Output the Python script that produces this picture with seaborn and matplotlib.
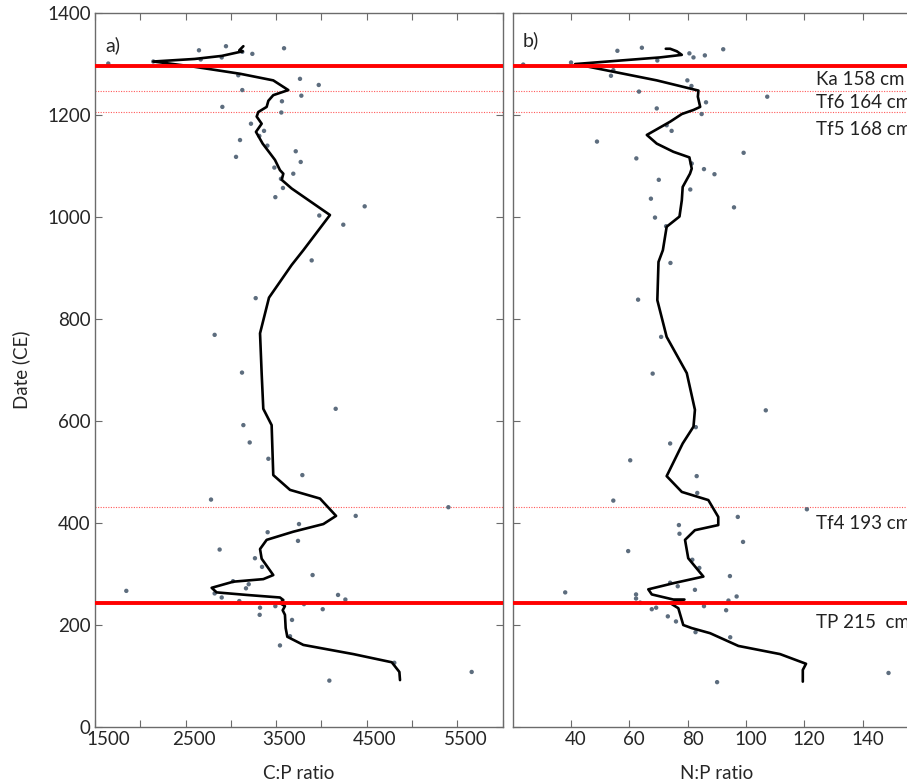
import numpy as np
import pandas as pd
import matplotlib
matplotlib.use("Agg")
import matplotlib.pyplot as plt
import matplotlib.transforms as mtrans
import seaborn as sns

sns.set_style("ticks")
plt.rcParams['font.family'] = ['Lato', 'DejaVu Sans']

# --- C:P samples (ratio, date CE)
cp_ratio = [1647, 2144, 2648, 2946, 3126, 3237, 3587, 2667, 2899, 3082, 3763, 3970,
            3126, 3778, 2906, 3564, 3557, 3222, 3366, 3314, 3101, 3403, 3716, 3057,
            3771, 3480, 3689, 3553, 3575, 3491, 4477, 3976, 4241, 3892, 3274, 2821,
            3123, 4157, 3138, 3208, 3414, 3789, 2781, 5401, 4378, 3752, 3406, 3741,
            2876, 3266, 3344, 3902, 3024, 3197, 3167, 1846, 2821, 2899, 4183, 4264,
            3093, 3807, 3491, 3322, 4014, 3318, 3675, 3653, 3542, 4804, 5658, 4087]
cp_date = [1301, 1305, 1327, 1335, 1324, 1320, 1331, 1309, 1313, 1278, 1271, 1259,
           1249, 1238, 1216, 1227, 1205, 1183, 1169, 1159, 1151, 1140, 1129, 1118,
           1108, 1097, 1085, 1075, 1057, 1039, 1021, 1003, 985, 915, 841, 769,
           695, 624, 592, 558, 526, 494, 446, 431, 414, 398, 382, 365,
           348, 331, 314, 298, 286, 280, 272, 267, 262, 254, 259, 250,
           247, 241, 237, 234, 231, 220, 210, 178, 160, 126, 108, 91]

# --- C:P smoothed curve
cp_line_val = [3138, 3093, 3130, 2900, 2600, 2144, 2585, 3101, 3468, 3634, 3468, 3414,
               3395, 3303, 3285, 3340, 3277, 3303, 3351, 3432, 3487, 3542, 3579, 3561,
               3671, 4094, 3800, 3671, 3421, 3322, 3340, 3358, 3450, 3468, 3653, 3984,
               4161, 4021, 3689, 3395, 3322, 3340, 3468, 3358, 3027, 2788, 2843, 3175,
               3542, 3579, 3542, 3597, 3572, 3597, 3605, 3623, 3800, 4352, 4776, 4860, 4867]
cp_line_date = [1335, 1327, 1325, 1316, 1310, 1305, 1295, 1281, 1268, 1249, 1239, 1228,
                1216, 1206, 1197, 1183, 1167, 1159, 1144, 1125, 1112, 1092, 1085, 1073,
                1056, 1004, 935, 906, 842, 772, 693, 624, 592, 494, 465, 448,
                414, 398, 383, 367, 349, 330, 298, 290, 285, 273, 264, 259,
                254, 249, 243, 237, 229, 220, 194, 177, 161, 143, 127, 108, 92]

# --- N:P samples
np_ratio = [23.6, 40.0, 55.9, 64.3, 80.6, 82.0, 85.9, 92.2, 69.6, 54.5, 53.7, 79.9,
            81.3, 63.3, 107.3, 86.3, 69.4, 84.8, 72.8, 74.5, 48.9, 99.2, 62.4, 81.4,
            85.6, 89.2, 70.1, 80.9, 67.4, 95.9, 68.8, 72.6, 74.1, 63.0, 70.9, 68.0,
            106.8, 82.8, 74.0, 60.3, 83.1, 83.3, 54.5, 120.9, 97.2, 77.0, 77.2, 99.0,
            59.6, 81.6, 84.0, 94.5, 74.0, 76.6, 82.5, 38.0, 62.3, 62.3, 96.8, 94.0,
            63.7, 85.6, 69.2, 67.7, 93.2, 73.2, 76.0, 82.7, 94.6, 148.9, 90.1]
np_date = [1299, 1303, 1326, 1332, 1321, 1313, 1317, 1329, 1307, 1288, 1277, 1268,
           1257, 1246, 1236, 1225, 1213, 1202, 1180, 1169, 1148, 1126, 1115, 1105,
           1094, 1084, 1073, 1054, 1036, 1019, 999, 982, 910, 838, 765, 693,
           621, 588, 556, 523, 492, 459, 444, 427, 412, 396, 379, 363,
           345, 328, 312, 296, 283, 276, 269, 264, 260, 252, 256, 248,
           244, 237, 234, 231, 229, 217, 207, 186, 176, 106, 88]

# --- N:P smoothed curve
np_line_val = [72.5, 74.0, 76.3, 78.0, 70.5, 41.4, 54.5, 69.4, 83.7, 83.5, 84.3, 82.0,
               78.0, 74.0, 66.0, 69.4, 75.1, 80.6, 81.4, 80.8, 78.3, 78.0, 77.2, 72.8,
               71.5, 70.0, 69.6, 72.8, 79.7, 82.5, 82.0, 78.3, 72.8, 78.0, 87.1, 90.5,
               90.5, 82.5, 79.1, 80.2, 85.4, 75.1, 66.5, 67.7, 75.1, 78.9, 74.0, 76.8,
               78.5, 81.4, 87.7, 97.4, 111.7, 120.6, 119.5, 119.5]
np_line_date = [1330, 1330, 1325, 1318, 1313, 1300, 1285, 1268, 1248, 1236, 1216, 1210,
                1202, 1187, 1161, 1144, 1128, 1117, 1095, 1085, 1059, 1033, 1001, 981,
                935, 912, 837, 765, 694, 622, 589, 556, 492, 461, 445, 412,
                396, 386, 367, 331, 295, 282, 270, 260, 250, 250, 243, 233,
                200, 194, 184, 159, 143, 124, 112, 89]

# --- tephra / marker horizons
major_dates = [1297, 243]
minor_dates = [1247, 1206, 431]
horizon_labels = ["Ka 158 cm", "Tf6 164 cm", "Tf5 168 cm", "Tf4 193 cm", "TP 215  cm"]
horizon_label_y = [1270, 1225, 1172, 400, 204]

cp = pd.DataFrame({"ratio": cp_ratio, "date": cp_date})
npd = pd.DataFrame({"ratio": np_ratio, "date": np_date})

fig = plt.figure(figsize=(9.07, 7.82), dpi=100)
ax1 = fig.add_axes([0.1047, 0.0703, 0.4495, 0.913])
ax2 = fig.add_axes([0.5653, 0.0703, 0.45, 0.913])

dot_col = "#5d6d7e"
spine_col = "#6b6b6b"

for ax, df, lv, ld in [(ax1, cp, cp_line_val, cp_line_date),
                       (ax2, npd, np_line_val, np_line_date)]:
    sns.scatterplot(data=df, x="ratio", y="date", ax=ax, color=dot_col, s=10,
                    edgecolor="none", zorder=3)
    sns.lineplot(x=lv, y=ld, ax=ax, sort=False, estimator=None, color="black",
                 lw=1.9, zorder=4)
    for d in major_dates:
        ax.axhline(d, color="red", lw=2.8, zorder=5)
    for d in minor_dates:
        ax.axhline(d, color="#ff5a5a", lw=0.8, ls=(0, (1, 1.3)), zorder=2)
    ax.set_ylim(0, 1400)
    ax.set_yticks(range(0, 1401, 200))
    for s in ax.spines.values():
        s.set_color(spine_col)
        s.set_linewidth(1.0)
    ax.tick_params(direction="in", length=5, color=spine_col, labelsize=13.5,
                   top=True, bottom=True, left=True, pad=3)

ax1.set_xlim(1500, 6000)
ax1.set_xticks(range(1500, 6001, 500))
ax1.set_xticklabels([str(v) if (v - 1500) % 1000 == 0 and v < 6000 else "" for v in range(1500, 6001, 500)])
ax1.tick_params(right=True)
ax1.set_xlabel("C:P ratio", fontsize=13.5, labelpad=12)
ax1.set_ylabel("Date (CE)", fontsize=13.5, labelpad=12)
ax1.text(0.025, 0.967, "a)", transform=ax1.transAxes, fontsize=14, va="top")

ax2.set_xlim(20, 160)
ax2.set_xticks(range(40, 161, 20))
ax2.set_xticklabels([str(v) if v < 160 else "" for v in range(40, 161, 20)])
ax2.set_yticklabels([])
ax2.set_xlabel("N:P ratio", fontsize=13.5, labelpad=12)
ax2.set_ylabel("")
ax2.text(0.025, 0.975, "b)", transform=ax2.transAxes, fontsize=14, va="top")
for lab, y in zip(horizon_labels, horizon_label_y):
    ax2.text(124, y, lab, fontsize=13.5, va="center", ha="left", color="#222222")

# tick labels sit a little right of their ticks in the original
for ax, dx in [(ax1, 8), (ax2, 5)]:
    for i, lab in enumerate(ax.get_xticklabels()):
        shift = 13 if (ax is ax1 and i == 0) else dx
        off = mtrans.ScaledTranslation(shift / 100, 0, fig.dpi_scale_trans)
        lab.set_transform(lab.get_transform() + off)

fig.savefig("out.png", dpi=100)
